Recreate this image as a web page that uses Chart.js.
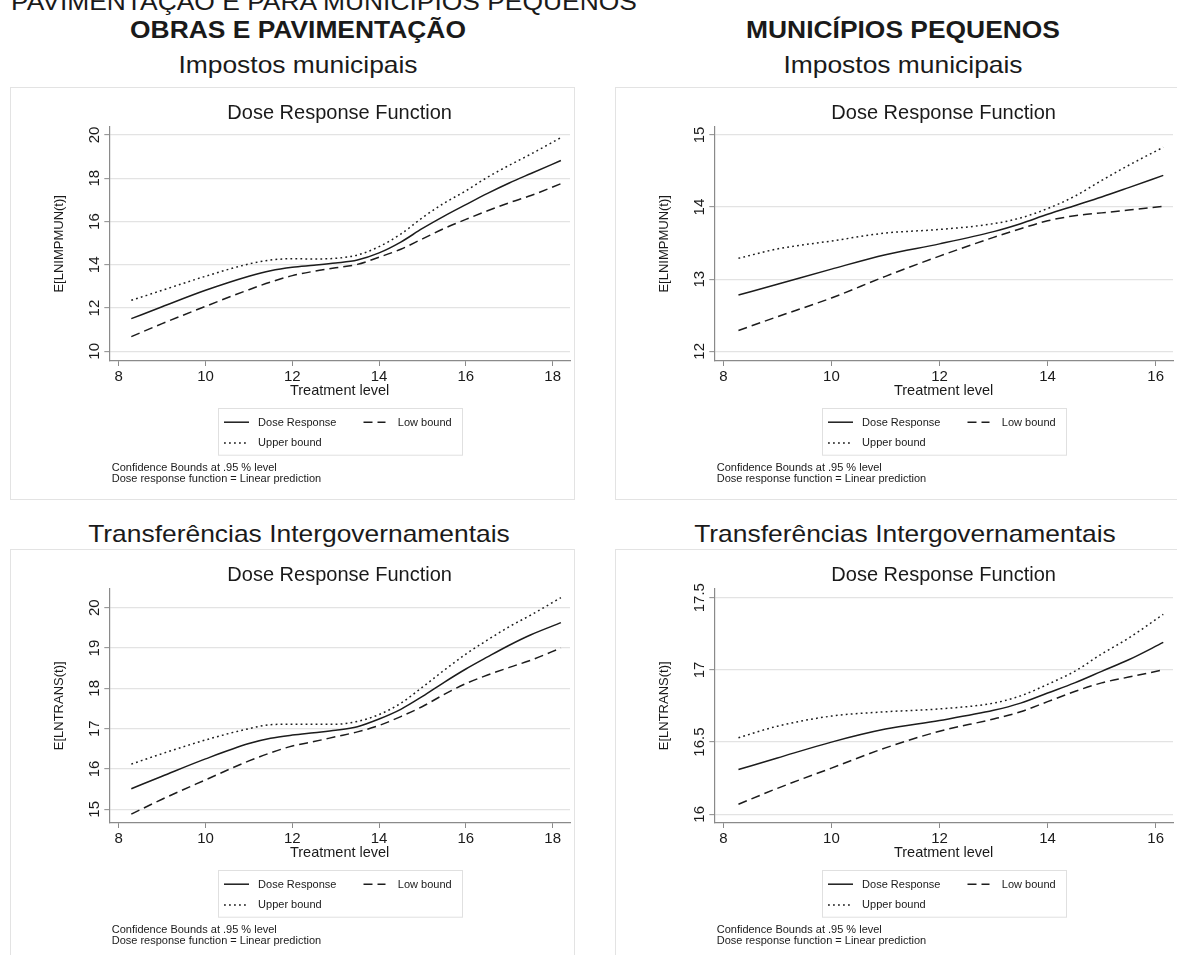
<!DOCTYPE html>
<html>
<head>
<meta charset="utf-8">
<script src="https://cdn.jsdelivr.net/npm/chart.js@4.4.1/dist/chart.umd.min.js"></script>
<style>
  html, body { margin: 0; padding: 0; background: #fff; }
  body { width: 1177px; height: 955px; overflow: hidden; position: relative;
         font-family: "Liberation Sans", Arial, Helvetica, sans-serif; color: #1a1a1a; }
  .head { position: absolute; white-space: nowrap; font-size: 24px; line-height: 24px;
          width: 600px; text-align: center; transform: scaleX(1.1); transform-origin: center; }
  .head.bold { font-weight: bold; }
  .head.flush { text-align: left; transform-origin: left center; }
  .frame { position: absolute; border: 1px solid #e3e3e3; box-sizing: border-box; }
  canvas { position: absolute; }
</style>
</head>
<body>

<div class="head flush" style="left:11px; top:-10px;">PAVIMENTAÇÃO E PARA MUNICÍPIOS PEQUENOS</div>
<div class="head bold" style="left:-2px; top:17.5px;">OBRAS E PAVIMENTAÇÃO</div>
<div class="head bold" style="left:603px; top:17.5px;">MUNICÍPIOS PEQUENOS</div>
<div class="head" style="left:-2px; top:53px;">Impostos municipais</div>
<div class="head" style="left:603px; top:53px;">Impostos municipais</div>
<div class="head" style="left:-1px; top:522px;">Transferências Intergovernamentais</div>
<div class="head" style="left:605px; top:522px;">Transferências Intergovernamentais</div>

<div class="frame" style="left:10px; top:87px; width:565px; height:413px;"></div>
<div class="frame" style="left:615px; top:87px; width:570px; height:413px;"></div>
<div class="frame" style="left:10px; top:549px; width:565px; height:420px;"></div>
<div class="frame" style="left:615px; top:549px; width:570px; height:420px;"></div>

<canvas id="impObras" width="565" height="420" style="left:10px; top:87px;"></canvas>
<canvas id="impPeq" width="565" height="420" style="left:615px; top:87px;"></canvas>
<canvas id="transObras" width="565" height="420" style="left:10px; top:549px;"></canvas>
<canvas id="transPeq" width="565" height="420" style="left:615px; top:549px;"></canvas>

<script>
// Treatment levels at which each dose-response curve is evaluated
const tObras    = [8.29, 9, 10, 11, 11.5, 12, 12.5, 13, 13.5, 14, 14.5, 15, 15.5, 16, 16.5, 17, 17.5, 18.19];
const tPequenos = [8.28, 9, 10, 11, 12, 13, 13.5, 14, 14.5, 15, 15.5, 16.14];

// Obras e pavimentação – impostos municipais
const impObrasDose  = [11.51, 12.06, 12.82, 13.47, 13.73, 13.89, 13.98, 14.08, 14.22, 14.55, 15.05, 15.68, 16.25, 16.78, 17.30, 17.78, 18.22, 18.82];
const impObrasLow   = [10.68, 11.28, 12.08, 12.85, 13.20, 13.50, 13.70, 13.86, 14.02, 14.35, 14.72, 15.20, 15.68, 16.10, 16.50, 16.87, 17.20, 17.75];
const impObrasUpper = [12.36, 12.82, 13.47, 14.04, 14.22, 14.28, 14.27, 14.30, 14.45, 14.84, 15.42, 16.18, 16.85, 17.42, 18.05, 18.60, 19.12, 19.88];

// Municípios pequenos – impostos municipais
const impPeqDose  = [12.78, 12.93, 13.14, 13.34, 13.49, 13.66, 13.77, 13.90, 14.02, 14.14, 14.27, 14.44];
const impPeqLow   = [12.29, 12.48, 12.74, 13.04, 13.32, 13.58, 13.70, 13.81, 13.88, 13.92, 13.96, 14.01];
const impPeqUpper = [13.29, 13.42, 13.53, 13.64, 13.69, 13.77, 13.85, 13.98, 14.15, 14.37, 14.58, 14.83];

// Obras e pavimentação – transferências intergovernamentais
const transObrasDose  = [15.51, 15.82, 16.25, 16.63, 16.76, 16.84, 16.90, 16.96, 17.05, 17.24, 17.48, 17.80, 18.15, 18.48, 18.78, 19.07, 19.33, 19.63];
const transObrasLow   = [14.88, 15.25, 15.73, 16.20, 16.40, 16.57, 16.68, 16.80, 16.92, 17.08, 17.30, 17.55, 17.85, 18.12, 18.33, 18.52, 18.70, 19.00];
const transObrasUpper = [16.12, 16.38, 16.72, 17.00, 17.10, 17.11, 17.11, 17.11, 17.18, 17.35, 17.63, 18.03, 18.45, 18.85, 19.20, 19.53, 19.82, 20.25];

// Municípios pequenos – transferências intergovernamentais
const transPeqDose  = [16.31, 16.39, 16.50, 16.59, 16.65, 16.72, 16.77, 16.84, 16.91, 16.99, 17.07, 17.19];
const transPeqLow   = [16.07, 16.18, 16.32, 16.46, 16.575, 16.66, 16.71, 16.78, 16.85, 16.91, 16.95, 17.00];
const transPeqUpper = [16.53, 16.61, 16.68, 16.71, 16.73, 16.77, 16.82, 16.90, 16.99, 17.11, 17.22, 17.385];

// Tick values
const xTicksObras        = [8, 10, 12, 14, 16, 18];
const xTicksPequenos     = [8, 10, 12, 14, 16];
const yTicksImpObras     = [10, 12, 14, 16, 18, 20];
const yTicksImpPeq       = [12, 13, 14, 15];
const yTicksTransObras   = [15, 16, 17, 18, 19, 20];
const yTicksTransPeq     = [16, 16.5, 17, 17.5];

// Text
const legendLabels = ['Dose Response', 'Low bound', 'Upper bound'];
const noteLines = ['Confidence Bounds at .95 % level', 'Dose response function = Linear prediction'];
const plotTitle = 'Dose Response Function';
const xTitle = 'Treatment level';

const FONT = '"Liberation Sans", Arial, Helvetica, sans-serif';
const INK = '#1a1a1a';
const LINE = '#1c1c1c';
const AXIS = '#8a8a8a';
const GRID = '#e3e3e3';
const LOW_DASH = [9, 5];
const UPPER_DASH = [1.8, 3.2];

Chart.defaults.font.family = FONT;
Chart.defaults.color = INK;

// Stata-style decorations: vertical y tick labels, boxed legend and footnotes
const stataDecor = {
  id: 'stataDecor',
  afterDraw(chart) {
    const { ctx, chartArea: ca } = chart;
    const ys = chart.scales.y;
    ctx.save();

    // y tick labels, written vertically like Stata does
    ctx.fillStyle = INK;
    ctx.font = '15px ' + FONT;
    ctx.textAlign = 'center';
    ctx.textBaseline = 'alphabetic';
    ys.ticks.forEach(t => {
      const py = ys.getPixelForValue(t.value);
      ctx.save();
      ctx.translate(ca.left - 10, py);
      ctx.rotate(-Math.PI / 2);
      ctx.fillText(String(t.value), 0, 0);
      ctx.restore();
    });

    // legend box
    const bw = 244, bh = 46.7;
    const bx = Math.round((ca.left + ca.right) / 2 - bw / 2) + 0.5;
    const by = Math.round(ca.bottom + 46.6) + 0.5;
    ctx.strokeStyle = '#e0e0e0';
    ctx.lineWidth = 1;
    ctx.setLineDash([]);
    ctx.strokeRect(bx, by, bw, bh);

    const items = [
      { label: legendLabels[0], dash: [],         x: 5.5,  tx: 39.6,  y: 13.7, w: 25 },
      { label: legendLabels[1], dash: LOW_DASH,   x: 145,  tx: 179.3, y: 13.7, w: 22 },
      { label: legendLabels[2], dash: UPPER_DASH, x: 5.5,  tx: 39.6,  y: 34.4, w: 25 }
    ];
    ctx.font = '11px ' + FONT;
    ctx.textAlign = 'left';
    ctx.textBaseline = 'middle';
    items.forEach(it => {
      ctx.strokeStyle = LINE;
      ctx.lineWidth = 1.5;
      ctx.setLineDash(it.dash);
      ctx.beginPath();
      ctx.moveTo(bx + it.x, by + it.y);
      ctx.lineTo(bx + it.x + it.w, by + it.y);
      ctx.stroke();
      ctx.setLineDash([]);
      ctx.fillStyle = INK;
      ctx.fillText(it.label, bx + it.tx, by + it.y + 0.5);
    });

    // footnotes
    ctx.fillText(noteLines[0], ca.left + 2.4, ca.bottom + 106.5);
    ctx.fillText(noteLines[1], ca.left + 2.4, ca.bottom + 118.2);
    ctx.restore();
  }
};

function buildPanel(canvasId, spec) {
  const series = (label, values, dash) => ({
    label,
    data: spec.t.map((x, i) => ({ x, y: values[i] })),
    borderColor: LINE,
    borderWidth: 1.5,
    borderDash: dash,
    pointRadius: 0,
    fill: false,
    cubicInterpolationMode: 'monotone'
  });

  return new Chart(document.getElementById(canvasId), {
    type: 'line',
    data: {
      datasets: [
        series(legendLabels[0], spec.dose, []),
        series(legendLabels[1], spec.low, LOW_DASH),
        series(legendLabels[2], spec.upper, UPPER_DASH)
      ]
    },
    options: {
      responsive: false,
      animation: false,
      devicePixelRatio: 1,
      events: [],
      layout: { padding: { left: 29.3, top: 0, right: spec.padRight, bottom: 96 } },
      plugins: {
        legend: { display: false },
        tooltip: { enabled: false },
        title: {
          display: true, text: plotTitle, fullSize: false, color: INK,
          font: { size: 20, weight: 'normal' },
          padding: { top: 14, bottom: 1.7 }
        }
      },
      scales: {
        x: {
          type: 'linear',
          min: spec.xMin, max: spec.xMax,
          afterBuildTicks: s => { s.ticks = spec.xTicks.map(v => ({ value: v })); },
          afterFit: s => { s.height = 50; },
          grid: { drawOnChartArea: false, drawTicks: true, tickLength: 5, color: AXIS, tickWidth: 1 },
          border: { display: true, color: AXIS, width: 1.2 },
          ticks: { color: INK, font: { size: 15 }, padding: 2, maxRotation: 0, minRotation: 0 },
          title: { display: true, text: xTitle, color: INK, font: { size: 14.5 }, padding: { top: 0, bottom: 11.3 } }
        },
        y: {
          type: 'linear',
          min: spec.yMin, max: spec.yMax,
          afterBuildTicks: s => { s.ticks = spec.yTicks.map(v => ({ value: v })); },
          afterFit: s => { s.width = 70; },
          grid: { drawOnChartArea: true, color: GRID, lineWidth: 1.3, drawTicks: true, tickLength: 5, tickColor: AXIS, tickWidth: 1 },
          border: { display: true, color: AXIS, width: 1.2 },
          ticks: { display: false },
          title: { display: true, text: spec.yTitle, color: INK, font: { size: 13 }, padding: { top: 12.4, bottom: 0 } }
        }
      }
    },
    plugins: [stataDecor]
  });
}

buildPanel('impObras', {
  t: tObras, dose: impObrasDose, low: impObrasLow, upper: impObrasUpper,
  xTicks: xTicksObras, yTicks: yTicksImpObras,
  xMin: 7.783, xMax: 18.40, yMin: 9.553, yMax: 20.384,
  yTitle: 'E[LNIMPMUN(t)]', padRight: 5
});
buildPanel('impPeq', {
  t: tPequenos, dose: impPeqDose, low: impPeqLow, upper: impPeqUpper,
  xTicks: xTicksPequenos, yTicks: yTicksImpPeq,
  xMin: 7.833, xMax: 16.32, yMin: 11.866, yMax: 15.115,
  yTitle: 'E[LNIMPMUN(t)]', padRight: 7
});
buildPanel('transObras', {
  t: tObras, dose: transObrasDose, low: transObrasLow, upper: transObrasUpper,
  xTicks: xTicksObras, yTicks: yTicksTransObras,
  xMin: 7.783, xMax: 18.40, yMin: 14.66, yMax: 20.472,
  yTitle: 'E[LNTRANS(t)]', padRight: 5
});
buildPanel('transPeq', {
  t: tPequenos, dose: transPeqDose, low: transPeqLow, upper: transPeqUpper,
  xTicks: xTicksPequenos, yTicks: yTicksTransPeq,
  xMin: 7.833, xMax: 16.32, yMin: 15.94, yMax: 17.562,
  yTitle: 'E[LNTRANS(t)]', padRight: 7
});
</script>
</body>
</html>
